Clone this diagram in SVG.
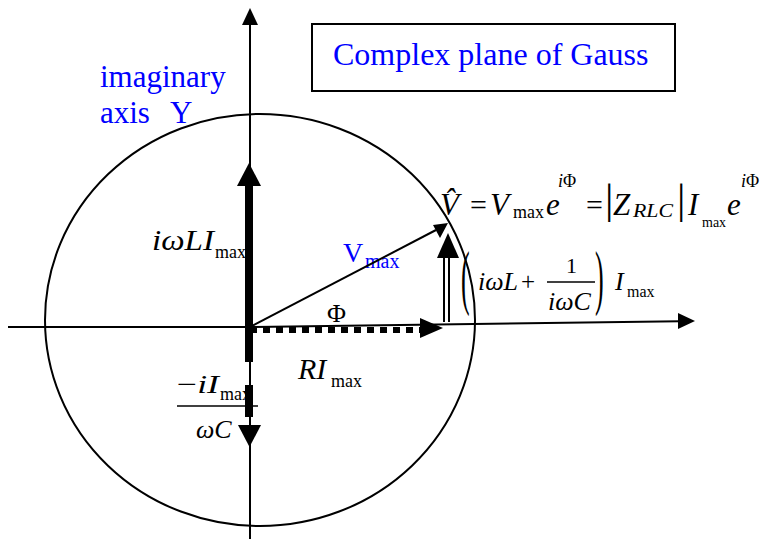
<svg xmlns="http://www.w3.org/2000/svg" width="762" height="539" viewBox="0 0 762 539">
<style>
text{font-family:"Liberation Serif","Times New Roman",serif;fill:#000}
.it{font-style:italic}
.blue{fill:#0000ff}
.thin{stroke:#000;stroke-width:2;fill:none}
.head{fill:#000;stroke:none}
</style>
<rect width="762" height="539" fill="#fff"/>
<g id="circle"><ellipse cx="260" cy="320" rx="215" ry="206" class="thin"/></g>
<g id="title">
<rect x="312" y="24" width="363" height="67" fill="#fff" stroke="#000" stroke-width="2"/>
<text x="333" y="65" font-size="32" class="blue">Complex plane of Gauss</text>
</g>
<g id="yaxis-label">
<text x="100" y="87" font-size="31" class="blue">imaginary</text>
<text x="100" y="123" font-size="31" class="blue">axis<tspan x="170">Y</tspan></text>
</g>
<g id="label-iwl">
<text x="152" y="250" font-size="29" class="it" textLength="62" lengthAdjust="spacingAndGlyphs">iωLI</text>
<text x="215" y="258" font-size="18">max</text>
</g>
<g id="label-cap">
<text x="177" y="393" font-size="26" textLength="42" lengthAdjust="spacingAndGlyphs">−<tspan class="it">iI</tspan></text>
<text x="220" y="400" font-size="18">max</text>
<line x1="177" y1="406" x2="258" y2="406" stroke="#000" stroke-width="1.5"/>
<text x="196" y="438" font-size="26" class="it">ωC</text>
</g>
<g id="label-ri">
<text x="298" y="379" font-size="30" class="it">RI</text>
<text x="331" y="387" font-size="18">max</text>
</g>
<g id="label-phi"><text x="327" y="322" font-size="26">Φ</text></g>
<g id="label-vmax">
<text x="343" y="262" font-size="28" class="blue">V</text>
<text x="365" y="268" font-size="20" class="blue">max</text>
</g>
<g id="equation">
<text x="440" y="215" font-size="31" class="it">V̂</text>
<text x="470" y="215" font-size="30">=</text>
<text x="490" y="215" font-size="31" class="it">V</text>
<text x="513" y="218" font-size="18">max</text>
<text x="546" y="215" font-size="31" class="it">e</text>
<text x="558" y="187" font-size="18"><tspan class="it">i</tspan>Φ</text>
<text x="586" y="215" font-size="30">=</text>
<text x="605" y="213" font-size="42">|</text>
<text x="613" y="215" font-size="31" class="it">Z</text>
<text x="633" y="217" font-size="18" class="it" textLength="40" lengthAdjust="spacingAndGlyphs">RLC</text>
<text x="677" y="213" font-size="42">|</text>
<text x="688" y="215" font-size="31" class="it">I</text>
<text x="702" y="227" font-size="14">max</text>
<text x="727" y="215" font-size="31" class="it">e</text>
<text x="741" y="187" font-size="18"><tspan class="it">i</tspan>Φ</text>
</g>
<g id="reactance-label">
<text font-size="26" transform="translate(461,301) scale(1,2.8)">(</text>
<text x="478" y="290" font-size="26" class="it">iωL</text>
<text x="521" y="290" font-size="25">+</text>
<text x="566" y="273" font-size="22">1</text>
<line x1="547" y1="282" x2="595" y2="282" stroke="#000" stroke-width="1.5"/>
<text x="548" y="310" font-size="26" class="it">iωC</text>
<text font-size="26" transform="translate(595,301) scale(1,2.8)">)</text>
<text x="615" y="290" font-size="26" class="it">I</text>
<text x="627" y="297" font-size="16">max</text>
</g>
<g id="connectors">
<line x1="250" y1="22" x2="250" y2="539" class="thin"/>
<polygon points="250,8 242,25 258,25" class="head"/>
<line x1="8" y1="327" x2="250" y2="327" class="thin"/>
<line x1="250" y1="327" x2="680" y2="321.2" class="thin"/>
<polygon points="695,321 678,313 678,329" class="head"/>
<line x1="249" y1="186" x2="249" y2="362" stroke="#000" stroke-width="8"/>
<polygon points="249,163 237,186 261,186" class="head"/>
<line x1="249" y1="327" x2="249" y2="417" stroke="#000" stroke-width="8" stroke-dasharray="35 23"/>
<polygon points="249.5,447 238,425 261,425" class="head"/>
<line x1="250" y1="330" x2="421" y2="330" stroke="#000" stroke-width="6" stroke-dasharray="7 6"/>
<polygon points="443,328 420,318 420,338" class="head"/>
<line x1="250" y1="327" x2="436" y2="230" class="thin"/>
<polygon points="448,223 433,225 440,238" class="head"/>
<line x1="444" y1="255" x2="444" y2="322" class="thin"/>
<line x1="449" y1="255" x2="449" y2="322" class="thin"/>
<polygon points="448,233 437,258 459,258" class="head"/>
</g>
</svg>
